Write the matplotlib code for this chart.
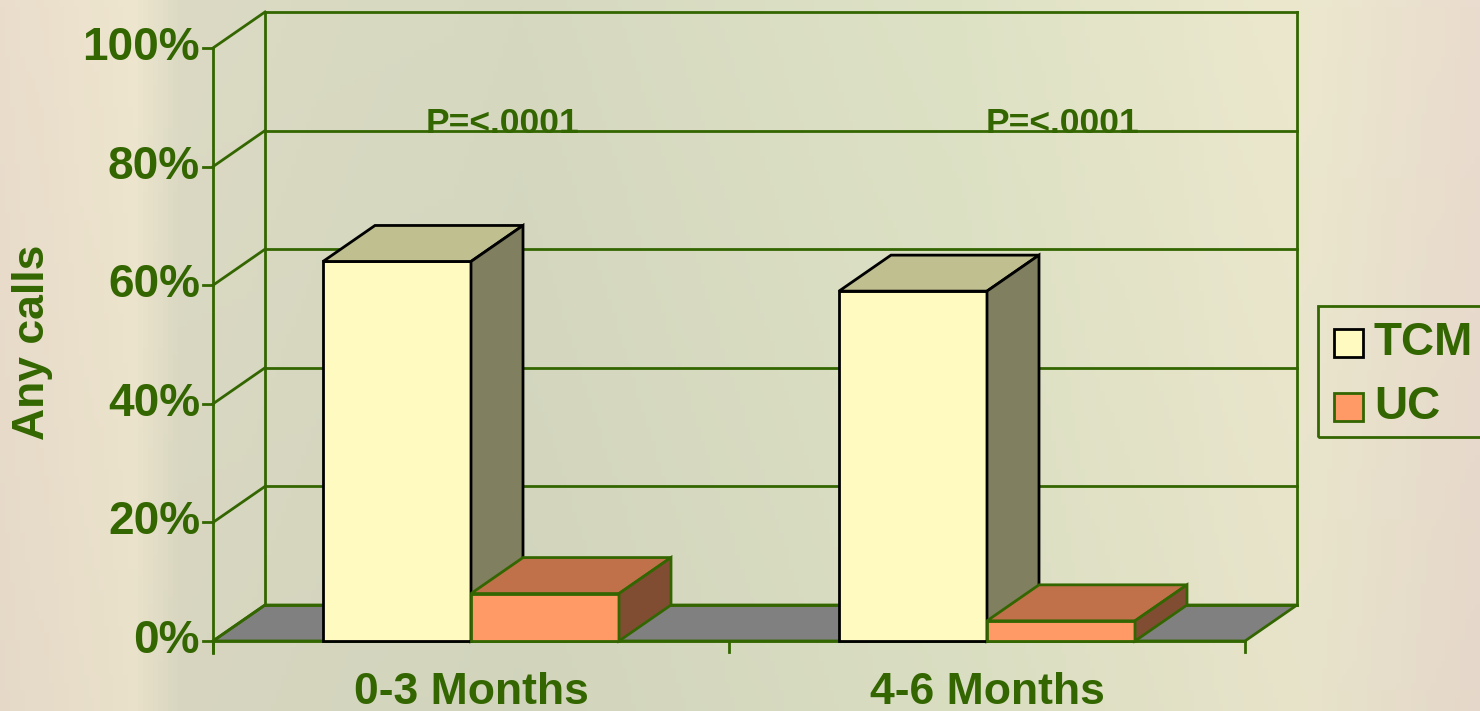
import matplotlib.pyplot as plt
import numpy as np
from matplotlib.patches import Polygon, Rectangle

plt.rcParams['font.family'] = ['Liberation Sans', 'DejaVu Sans']

# data
categories = ['0-3 Months', '4-6 Months']
series = ['TCM', 'UC']
tcm = [64, 59]
uc = [8, 3.4]
p_labels = ['P=<.0001', 'P=<.0001']
p_x = [0.562, 1.647]
y_ticks = [0, 20, 40, 60, 80, 100]

green = '#336600'
faces = {'TCM': ('#fffbc0', '#bfbf8f', '#807f5f', 'black'),
         'UC': ('#ff9966', '#c0714a', '#804d33', green)}

# layout (front plane: x in category units, y in percent)
ppx = 516.0   # px per category
ppy = 5.93    # px per percent
DX = 52 / ppx
DY = 36 / ppy
bw = 148 / ppx

fig = plt.figure(figsize=(14.8, 7.11), dpi=100)
ax = fig.add_axes([0, 0, 1, 1])
ax.set_xlim(-213 / ppx, (1480 - 213) / ppx)
ax.set_ylim((641 - 711) / ppy, 641 / ppy)
ax.axis('off')

# background gradient
xs = np.linspace(0, 1, 300)
stops = [0, 0.09, 0.12, 0.35, 0.65, 0.88, 1]
cols = np.array([[234, 221, 204], [238, 230, 206], [220, 218, 196], [214, 217, 192],
                 [222, 226, 197], [236, 232, 206], [234, 220, 206]]) / 255
row = np.stack([np.interp(xs, stops, cols[:, k]) for k in range(3)], axis=1)
yy = np.linspace(0, 1, 100)[:, None, None]
img = row[None, :, :] * (1 - 0.02 * yy)
ax.imshow(img, extent=[*ax.get_xlim(), *ax.get_ylim()], aspect='auto', zorder=0)

x0, x1 = 0, len(categories)

# floor
floor = Polygon([(x0, 0), (x1, 0), (x1 + DX, DY), (x0 + DX, DY)], closed=True,
                facecolor='#808080', edgecolor=green, lw=2, zorder=2)
ax.add_patch(floor)

# p-value texts (behind gridlines)
for px_, lab in zip(p_x, p_labels):
    ax.text(px_, 85.6, lab, color=green, fontsize=25.5, fontweight='bold',
            ha='center', va='baseline', zorder=2)

# back wall gridlines and left wall
for t in y_ticks:
    ax.plot([x0 + DX, x1 + DX], [t + DY, t + DY], color=green, lw=2, zorder=3)
    ax.plot([x0, x0 + DX], [t, t + DY], color=green, lw=2, zorder=3)
    ax.plot([x0 - 10 / ppx, x0], [t, t], color=green, lw=2, zorder=3)
    ax.text(x0 - 13 / ppx, t, f'{t}%', color=green, fontsize=33, fontweight='bold',
            ha='right', va='center', zorder=5)
ax.plot([x0 + DX, x0 + DX], [DY, 100 + DY], color=green, lw=2, zorder=3)
ax.plot([x1 + DX, x1 + DX], [DY, 100 + DY], color=green, lw=2, zorder=3)
ax.plot([x0, x0], [-2, 100], color=green, lw=2, zorder=3)
ax.plot([x0, x1], [0, 0], color=green, lw=2, zorder=3)
for k in range(len(categories) + 1):
    ax.plot([k, k], [0, -11 / ppy], color=green, lw=2, zorder=3)


def bar3d(xl, h, name):
    front, top, side, ec = faces[name]
    xr = xl + bw
    ax.add_patch(Polygon([(xl, 0), (xr, 0), (xr, h), (xl, h)], facecolor=front,
                         edgecolor=ec, lw=2, zorder=4, joinstyle='miter'))
    ax.add_patch(Polygon([(xl, h), (xr, h), (xr + DX, h + DY), (xl + DX, h + DY)],
                         facecolor=top, edgecolor=ec, lw=2, zorder=4, joinstyle='miter'))
    ax.add_patch(Polygon([(xr, 0), (xr + DX, DY), (xr + DX, h + DY), (xr, h)],
                         facecolor=side, edgecolor=ec, lw=2, zorder=4, joinstyle='miter'))


for i, cat in enumerate(categories):
    c = i + 0.5
    bar3d(c - bw, tcm[i], 'TCM')
    bar3d(c, uc[i], 'UC')
    ax.text(c, (641 - 704) / ppy, cat, color=green, fontsize=32, fontweight='bold',
            ha='center', va='baseline', zorder=5)

ax.text(-180 / ppx, 50.3, 'Any calls', color=green, fontsize=32, fontweight='bold',
        rotation=90, ha='center', va='center', zorder=5)

# legend (figure pixels)
W, H = 1480, 711
def fx(p):
    return p / W
def fy(p):
    return 1 - p / H

fig.patches.append(Rectangle((fx(1318), fy(437)), fx(200), 131 / H, transform=fig.transFigure,
                             facecolor='none', edgecolor=green, lw=2))
for j, name in enumerate(series):
    yc = 343 + 64 * j
    fig.patches.append(Rectangle((fx(1334), fy(yc + 14)), 29 / W, 28 / H, transform=fig.transFigure,
                                 facecolor=faces[name][0], edgecolor=faces[name][3], lw=2))
    fig.text(fx(1374), fy(yc), name, color=green, fontsize=33, fontweight='bold',
             ha='left', va='center')

fig.savefig('out.png', dpi=100)
